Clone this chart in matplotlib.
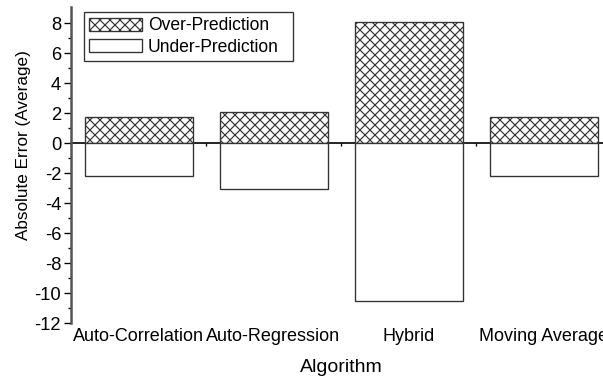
import matplotlib
matplotlib.use("Agg")
import matplotlib.pyplot as plt
from matplotlib.legend_handler import HandlerPatch
from matplotlib.patches import Rectangle
import numpy as np

plt.rcParams['font.family'] = ['Liberation Sans', 'DejaVu Sans']
plt.rcParams['hatch.linewidth'] = 0.7
plt.rcParams['axes.unicode_minus'] = False

algorithms = ["Auto-Correlation", "Auto-Regression", "Hybrid", "Moving Average"]
over_pred = [1.73, 2.07, 8.07, 1.73]
under_pred = [-2.18, -3.07, -10.49, -2.18]

x = np.arange(len(algorithms))


def right_swatch(legend, orig_handle, xdescent, ydescent, width, height, fontsize):
    # swatch sits in the right part of the handle box, leaving a wide left margin
    w = width * 0.72
    return Rectangle((-xdescent + width - w, -ydescent - height * 0.05), w, height * 1.1)


fig = plt.figure(figsize=(603 / 120, 377 / 120), dpi=120)
ax = fig.add_axes([71 / 603, 1 - 323.3 / 377, 540 / 603, (323.3 - 7) / 377])

ax.bar(x, over_pred, width=0.8, facecolor='white', edgecolor='#333333',
       linewidth=0.8, hatch='xxxx', label='Over-Prediction', zorder=2)
ax.bar(x, under_pred, width=0.8, facecolor='white', edgecolor='#333333',
       linewidth=0.8, label='Under-Prediction', zorder=2)

ax.set_xlim(-0.5, 3.5)
ax.set_ylim(-12, 9.1)
ax.set_yticks(np.arange(-12, 9, 2))
ax.set_yticks(np.arange(-12, 9, 1), minor=True)
ax.tick_params(axis='y', which='major', direction='out', length=4, width=0.8,
               labelsize=11, pad=2)
ax.tick_params(axis='y', which='minor', direction='out', length=2, width=0.8)

for s in ['top', 'right', 'bottom']:
    ax.spines[s].set_visible(False)
ax.spines['left'].set_color('#555555')
ax.spines['left'].set_linewidth(1.5)

# category labels stay at the bottom, ticks live on the zero line
ax.set_xticks(x)
ax.set_xticklabels(algorithms, fontsize=10.8)
ax.tick_params(axis='x', length=0, pad=3)

zero = ax.secondary_xaxis(0, transform=ax.transData)
zero.set_xticks(x)
zero.set_xticks(x[:-1] + 0.5, minor=True)
zero.set_xticklabels([])
zero.tick_params(which='major', direction='out', length=3, width=0.8)
zero.tick_params(which='minor', direction='out', length=2, width=0.8)
zero.spines['bottom'].set_linewidth(1.0)
zero.spines['bottom'].set_color('black')

ax.set_xlabel('Algorithm', fontsize=11.7, labelpad=8)
ax.set_ylabel('Absolute Error (Average)', fontsize=10.3)
ax.yaxis.set_label_coords(31 / 603, 1 - 145 / 377, transform=fig.transFigure)

leg = ax.legend(loc='upper left',
                bbox_to_anchor=(84 / 603, 1 - 61 / 377, 209 / 603, 49 / 377),
                bbox_transform=fig.transFigure, mode='expand',
                fontsize=10.5, fancybox=False,
                edgecolor='#333333', framealpha=1, borderpad=0.3,
                handlelength=3.0, handleheight=0.75, handletextpad=0.35,
                labelspacing=0.25, borderaxespad=0,
                handler_map={Rectangle: HandlerPatch(patch_func=right_swatch)})
leg.get_frame().set_linewidth(0.8)

fig.savefig('out.png', dpi=120)
